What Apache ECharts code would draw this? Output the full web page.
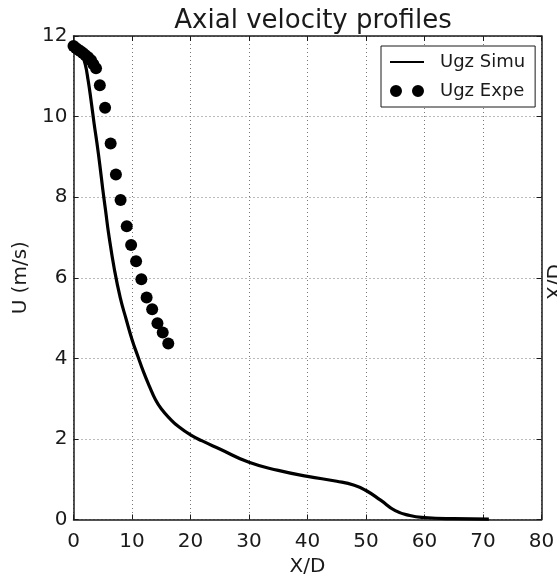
<!DOCTYPE html>
<html lang="en">
<head>
    <meta charset="UTF-8">
    <title>Axial velocity profiles</title>
    <script src="https://cdn.jsdelivr.net/npm/echarts@6/dist/echarts.min.js"></script>
    <style>
        html,body{margin:0;padding:0;background:#fff;}
        #chart{width:557px;height:575px;}
    </style>
</head>
<body>
<div id="chart"></div>
<script>
    'use strict';
    // simulated axial velocity (line)
    var simuX=[0,0.8,1.5,2,2.5,3,3.5,4,4.5,5,5.5,6,7,8,9,10,11,12,13,14,15,16.5,18,20,22,25,30,35,40,45,48,50,52.5,55,57.5,60,65,71];
    var simuU=[11.75,11.65,11.5,11.3,10.9,10.4,9.85,9.35,8.8,8.2,7.65,7.1,6.2,5.5,4.97,4.47,4.05,3.65,3.3,2.98,2.75,2.5,2.3,2.1,1.95,1.75,1.42,1.22,1.07,0.95,0.85,0.72,0.48,0.22,0.1,0.05,0.02,0.01];
    // experimental axial velocity (dots)
    var expeX=[0,0.4,0.8,1.2,1.6,2.0,2.5,3.0,3.4,3.85,4.5,5.4,6.35,7.25,8.05,9.1,9.85,10.7,11.6,12.5,13.45,14.35,15.25,16.2];
    var expeU=[11.75,11.7,11.66,11.62,11.58,11.53,11.47,11.4,11.3,11.2,10.78,10.22,9.33,8.56,7.93,7.28,6.81,6.41,5.96,5.51,5.22,4.87,4.64,4.37];

    var xTicks={min:0,max:80,interval:10};
    var yTicks={min:0,max:12,interval:2};

    var FONT='DejaVu Sans';
    var INK='#1a1a1a';

    function pairs(xs,ys){
        return xs.map(function(x,i){return [x,ys[i]];});
    }

    var frameLine={show:true,onZero:false,lineStyle:{color:INK,width:1.5}};
    var innerTick={show:true,inside:true,length:5,lineStyle:{color:INK,width:1}};
    var dotted={show:true,lineStyle:{color:'#777',width:1,type:[1,3]}};

    // two dots side by side, like the matplotlib legend marker
    var twoDots='path://M6,0A6,6 0 1,1 5.99,0Z M28,0A6,6 0 1,1 27.99,0Z';

    var mychart=echarts.init(document.getElementById('chart'));
    var option={
        animation:false,
        backgroundColor:'#fff',
        textStyle:{fontFamily:FONT},
        title:{
            text:'Axial velocity profiles',
            left:308,
            top:3,
            textAlign:'center',
            textStyle:{fontFamily:FONT,fontSize:26,fontWeight:'normal',color:INK}
        },
        grid:{left:73.5,right:15.5,top:36,bottom:55.5,containLabel:false,outerBoundsMode:'none'},
        legend:{
            orient:'vertical',
            left:381,
            top:46,
            padding:[7,10,7,8],
            itemGap:11,
            itemWidth:34,
            itemHeight:12,
            borderColor:INK,
            borderWidth:1,
            borderRadius:0,
            backgroundColor:'#fff',
            textStyle:{fontFamily:FONT,fontSize:18,color:INK,padding:[0,0,0,11]},
            data:[
                {name:'Ugz Simu',itemStyle:{opacity:0}},
                {name:'Ugz Expe',icon:twoDots}
            ]
        },
        xAxis:[{
            type:'value',
            min:xTicks.min,max:xTicks.max,interval:xTicks.interval,
            name:'X/D',
            nameLocation:'middle',
            nameGap:33,
            nameTextStyle:{fontFamily:FONT,fontSize:20,color:INK},
            axisLine:frameLine,
            axisTick:innerTick,
            axisLabel:{fontFamily:FONT,fontSize:20,color:INK,margin:12},
            splitLine:dotted
        },{
            type:'value',
            position:'top',
            min:xTicks.min,max:xTicks.max,interval:xTicks.interval,
            axisLine:frameLine,
            axisTick:innerTick,
            axisLabel:{show:false},
            splitLine:{show:false}
        }],
        yAxis:[{
            type:'value',
            min:yTicks.min,max:yTicks.max,interval:yTicks.interval,
            name:'U (m/s)',
            nameLocation:'middle',
            nameGap:40,
            nameTextStyle:{fontFamily:FONT,fontSize:20,color:INK},
            axisLine:frameLine,
            axisTick:innerTick,
            axisLabel:{fontFamily:FONT,fontSize:20,color:INK,margin:6},
            splitLine:dotted
        },{
            type:'value',
            position:'right',
            min:yTicks.min,max:yTicks.max,interval:yTicks.interval,
            axisLine:frameLine,
            axisTick:innerTick,
            axisLabel:{show:false},
            splitLine:{show:false}
        }],
        series:[{
            name:'Ugz Simu',
            type:'line',
            smooth:0.5,
            symbol:'none',
            lineStyle:{color:'#000',width:3.2},
            itemStyle:{color:'#000'},
            data:pairs(simuX,simuU),
            z:2
        },{
            name:'Ugz Expe',
            type:'scatter',
            symbol:'circle',
            symbolSize:12,
            itemStyle:{color:'#000',opacity:1},
            data:pairs(expeX,expeU),
            z:3
        }],
        graphic:[{
            // axis name of the neighbouring panel, cut by the right edge
            type:'text',
            x:546,
            y:300,
            rotation:Math.PI/2,
            style:{text:'X/D',fontFamily:FONT,fontSize:20,fill:INK}
        }]
    };
    mychart.setOption(option);
</script>
</body>
</html>
